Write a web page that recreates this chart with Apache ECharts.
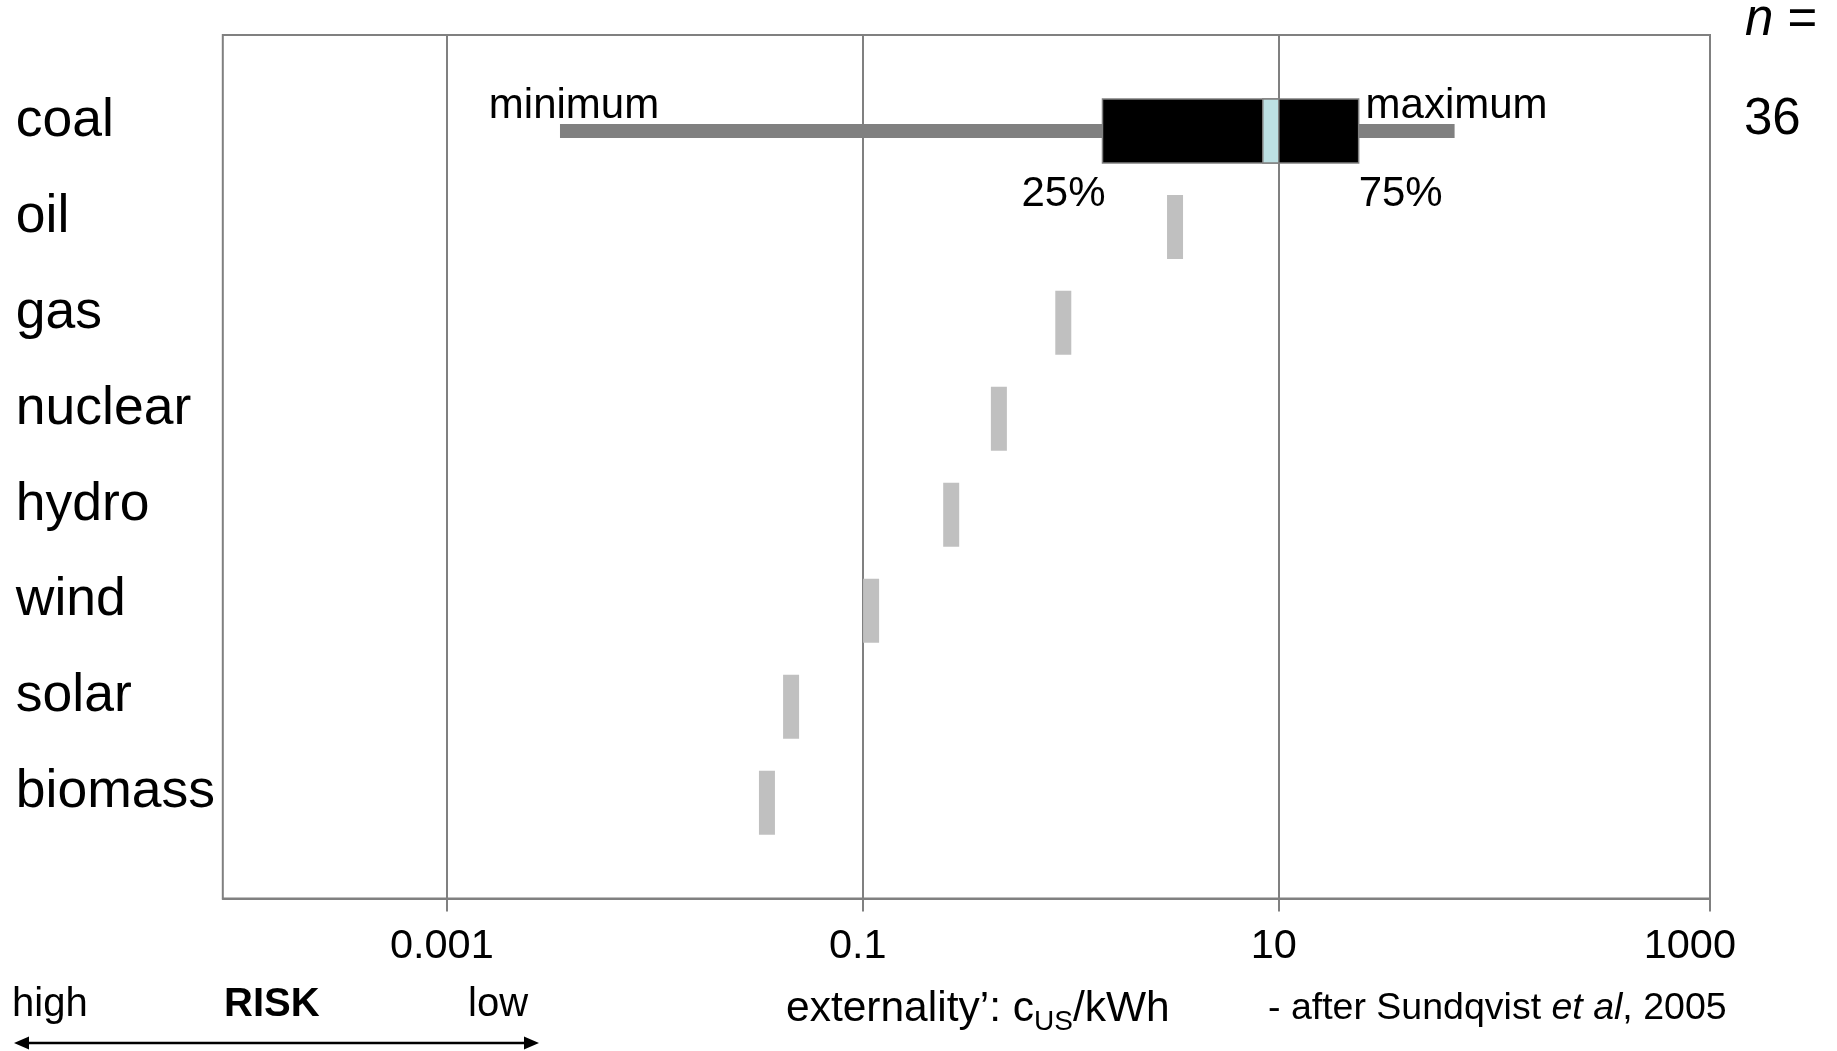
<!DOCTYPE html>
<html>
<head>
<meta charset="utf-8">
<title>Externality costs by energy source</title>
<script src="https://cdn.jsdelivr.net/npm/echarts@6/dist/echarts.min.js"></script>
<style>
  html, body { margin: 0; padding: 0; background: #fff; }
  #main { width: 1837px; height: 1051px; }
</style>
</head>
<body>
<div id="main"></div>
<script>
var myChart = echarts.init(document.getElementById('main'));

// rows of the chart (empty slots at both ends give the spacing)
var categories = ['', 'coal', 'oil', 'gas', 'nuclear', 'hydro', 'wind', 'solar', 'biomass', ''];

// coal: minimum, 25%, median, 75%, maximum  (c/kWh)
var coalBox = [0.0035, 1.42, 9.15, 24.2, 70];
var coalN = 36;

// the other sources, one value each
var otherNames = ['oil', 'gas', 'nuclear', 'hydro', 'wind', 'solar', 'biomass'];
var otherValues = [3.17, 0.92, 0.451, 0.266, 0.1096, 0.0452, 0.0346];

// axis ticks / labels
var gridTicks = [0.001, 0.1, 10];
var tickLabels = [0.001, 0.1, 10, 1000];

var xMin = Math.pow(10, -4.077);
var xMax = Math.pow(10, 3.073);

var FONT = 'Liberation Sans, Arial, sans-serif';
var GRAY = '#808080';

var otherData = otherNames.map(function (name, i) {
    return [otherValues[i], name];
});

myChart.setOption({
    animation: false,
    textStyle: { fontFamily: FONT },
    grid: {
        left: 222.8,
        right: 127,
        top: 35,
        bottom: 152.4,
        show: true,
        borderColor: GRAY,
        borderWidth: 2,
        outerBoundsMode: 'none'
    },
    xAxis: [{
        type: 'log',
        logBase: 10,
        min: xMin,
        max: xMax,
        position: 'bottom',
        axisLine: { show: true, lineStyle: { color: GRAY, width: 2 } },
        axisTick: { show: true, customValues: gridTicks, length: 13, lineStyle: { color: GRAY, width: 2 } },
        splitLine: { show: true, lineStyle: { color: GRAY, width: 2 } },
        minorTick: { show: false },
        axisLabel: {
            customValues: tickLabels,
            fontSize: 41.5,
            color: '#000',
            margin: 27,
            padding: [0, 10, 0, 0],
            formatter: function (v) { return String(+(+v).toPrecision(6)); }
        }
    }, {
        // only the tick below the right edge of the box
        type: 'value',
        min: 0,
        max: 1,
        position: 'bottom',
        axisLine: { show: false },
        axisTick: { show: true, customValues: [1], length: 13, lineStyle: { color: GRAY, width: 2 } },
        splitLine: { show: false },
        axisLabel: { show: false }
    }],
    yAxis: {
        type: 'category',
        inverse: true,
        boundaryGap: false,
        data: categories,
        axisLine: { show: false },
        axisTick: { show: false },
        splitLine: { show: false },
        axisLabel: {
            interval: 0,
            align: 'left',
            verticalAlign: 'bottom',
            lineHeight: 20,
            margin: 207,
            fontSize: 53.5,
            color: '#000'
        }
    },
    series: [{
        name: 'coal',
        type: 'custom',
        xAxisIndex: 0,
        data: [coalBox.concat(['coal'])],
        encode: { x: [0, 1, 2, 3, 4], y: 5 },
        renderItem: function (params, api) {
            var cat = api.value(5);
            var pMin = api.coord([api.value(0), cat]);
            var pQ1 = api.coord([api.value(1), cat]);
            var pMed = api.coord([api.value(2), cat]);
            var pQ3 = api.coord([api.value(3), cat]);
            var pMax = api.coord([api.value(4), cat]);
            var y = pMin[1];
            var labelFont = { fontSize: 42, fontFamily: FONT, fill: '#000', verticalAlign: 'middle' };
            return {
                type: 'group',
                children: [{
                    type: 'rect',
                    shape: { x: pMin[0], y: y - 7, width: pMax[0] - pMin[0], height: 14 },
                    style: { fill: GRAY }
                }, {
                    type: 'rect',
                    shape: { x: pQ1[0], y: y - 32, width: pQ3[0] - pQ1[0], height: 64 },
                    style: { fill: '#000', stroke: GRAY, lineWidth: 1.5 }
                }, {
                    type: 'rect',
                    shape: { x: pMed[0] - 8, y: y - 32, width: 16, height: 64 },
                    style: { fill: '#bde0e3', stroke: GRAY, lineWidth: 1.5 }
                }, {
                    type: 'text', x: pMin[0] + 14, y: y - 25,
                    style: echarts.util.extend({ text: 'minimum', align: 'center' }, labelFont)
                }, {
                    type: 'text', x: pMax[0] + 2, y: y - 25,
                    style: echarts.util.extend({ text: 'maximum', align: 'center' }, labelFont)
                }, {
                    type: 'text', x: pQ1[0] + 3, y: y + 63,
                    style: echarts.util.extend({ text: '25%', align: 'right' }, labelFont)
                }, {
                    type: 'text', x: pQ3[0], y: y + 63,
                    style: echarts.util.extend({ text: '75%', align: 'left' }, labelFont)
                }]
            };
        },
        z: 3
    }, {
        name: 'others',
        type: 'scatter',
        xAxisIndex: 0,
        symbol: 'rect',
        symbolSize: [16, 64],
        itemStyle: { color: '#c0c0c0', opacity: 1 },
        data: otherData,
        z: 3
    }],
    graphic: [{
        type: 'text', x: 1745, y: 21,
        style: {
            text: '{i|n} =',
            rich: { i: { fontStyle: 'italic', fontSize: 51, fontFamily: FONT } },
            fontSize: 51, fontFamily: FONT, fill: '#000', verticalAlign: 'middle'
        }
    }, {
        type: 'text', x: 1744, y: 120,
        style: { text: String(coalN), fontSize: 51, fontFamily: FONT, fill: '#000', verticalAlign: 'middle' }
    }, {
        type: 'text', x: 12, y: 1005,
        style: { text: 'high', fontSize: 40, fontFamily: FONT, fill: '#000', verticalAlign: 'middle' }
    }, {
        type: 'text', x: 224, y: 1005,
        style: { text: 'RISK', fontSize: 40, fontWeight: 'bold', fontFamily: FONT, fill: '#000', verticalAlign: 'middle' }
    }, {
        type: 'text', x: 468, y: 1005,
        style: { text: 'low', fontSize: 40, fontFamily: FONT, fill: '#000', verticalAlign: 'middle' }
    }, {
        type: 'line',
        shape: { x1: 24, y1: 1043, x2: 529, y2: 1043 },
        style: { stroke: '#000', lineWidth: 2.5 }
    }, {
        type: 'polygon',
        shape: { points: [[14, 1043], [29, 1036.5], [29, 1049.5]] },
        style: { fill: '#000' }
    }, {
        type: 'polygon',
        shape: { points: [[539, 1043], [524, 1036.5], [524, 1049.5]] },
        style: { fill: '#000' }
    }, {
        type: 'text', x: 786, y: 1009,
        style: {
            text: '{a|externality\u2019: c}{s|US}{a|/kWh}',
            verticalAlign: 'middle',
            rich: {
                a: { fontSize: 42.5, fontFamily: FONT, fill: '#000' },
                s: { fontSize: 28, fontFamily: FONT, fill: '#000', padding: [26, 0, 0, 0] }
            }
        }
    }, {
        type: 'text', x: 1268, y: 1009,
        style: {
            text: '{a|- after Sundqvist }{i|et al}{a|, 2005}',
            verticalAlign: 'middle',
            rich: {
                a: { fontSize: 37.5, fontFamily: FONT, fill: '#000' },
                i: { fontSize: 37.5, fontFamily: FONT, fill: '#000', fontStyle: 'italic' }
            }
        }
    }]
});
</script>
</body>
</html>
